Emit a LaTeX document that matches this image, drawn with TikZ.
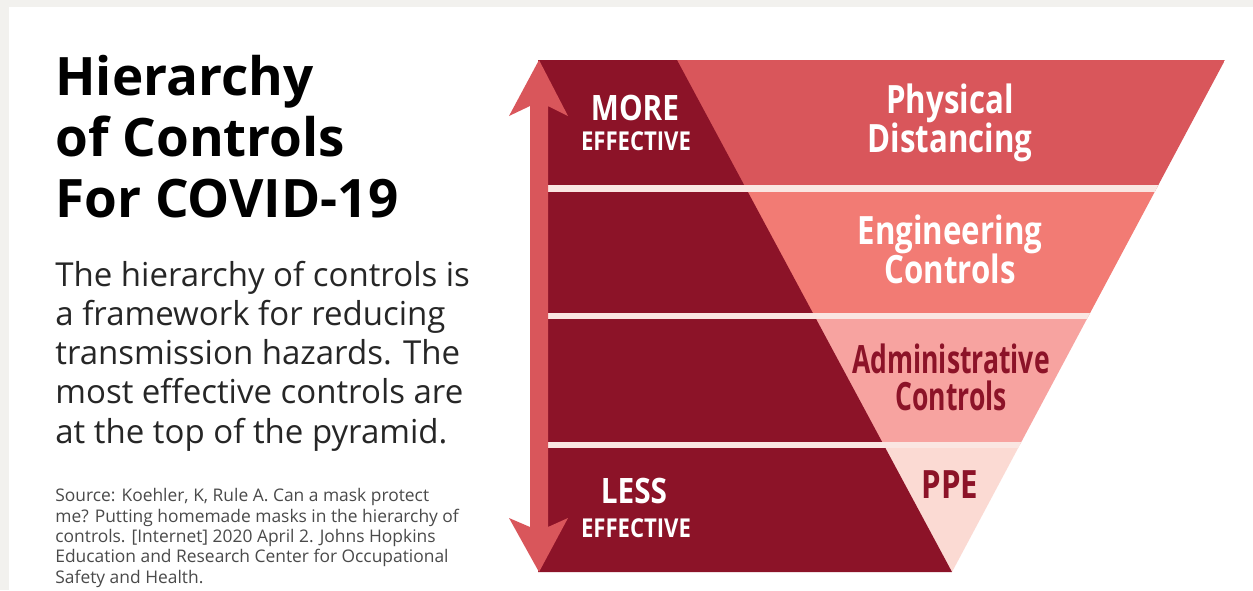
\documentclass[tikz,border=0pt]{standalone}
\usepackage{fontspec}
\setmainfont{Open Sans}
\newfontfamily\condfont[FakeStretch=0.80]{Open Sans}
\newfontfamily\narrowfont[FakeStretch=0.68]{Open Sans}
\newfontfamily\levelfont[FakeStretch=0.85]{Open Sans}
\usepackage{xcolor}

\definecolor{DeepRed}{HTML}{8C1328}
\definecolor{TierA}{HTML}{D9565B}
\definecolor{TierB}{HTML}{F27B74}
\definecolor{TierC}{HTML}{F7A3A0}
\definecolor{TierD}{HTML}{FBDAD3}
\definecolor{GapPink}{HTML}{FAE6E2}
\definecolor{FrameGray}{HTML}{F2F1EE}
\definecolor{SourceGray}{HTML}{4A4A4A}

\begin{document}
\begin{tikzpicture}[
	x=0.5pt, y=-0.5pt,
	title/.style={anchor=base west, inner sep=0, align=left, text=black,
		font=\fontsize{26.5}{30.5}\selectfont\bfseries},
	body/.style={anchor=base west, inner sep=0, align=left, text=black!85,
		font=\fontsize{16.5}{19.6}\selectfont},
	source/.style={anchor=base west, inner sep=0, align=left, text=SourceGray,
		font=\fontsize{8.7}{10.15}\selectfont},
	tier/.style={anchor=base, inner sep=0, align=center,
		font=\condfont\fontsize{19.5}{19.5}\selectfont\bfseries},
	level/.style={anchor=base, inner sep=0, align=center, text=white}
]
\useasboundingbox (0, 0) rectangle (1253, 590);
\fill[FrameGray] (0, 0) rectangle (1253, 590);
\fill[white] (9, 7) rectangle (1253, 590);

% Text (base = last line)
\node[title] (head) at (55, 217) {Hierarchy\\of Controls\\For COVID-19};
\node[body] (intro) at (55, 443) {The hierarchy of controls is\\a framework for reducing\\transmission hazards. The\\most effective controls are\\at the top of the pyramid.};
\node[source] (ref) at (55, 583) {Source: Koehler, K, Rule A. Can a mask protect\\me? Putting homemade masks in the hierarchy of\\controls. [Internet] 2020 April 2. Johns Hopkins\\Education and Research Center for Occupational\\Safety and Health.};

% Pyramid
\begin{scope}
\clip (538, 60) -- (1225, 60) -- (952, 572) -- (538, 572) -- cycle;
\fill[TierA] (538, 60) rectangle (1225, 188);
\fill[TierB] (538, 188) rectangle (1225, 316);
\fill[TierC] (538, 316) rectangle (1225, 444);
\fill[TierD] (538, 444) rectangle (1225, 572);
\fill[DeepRed] (538, 60) -- (677, 60) -- (952, 572) -- (538, 572) -- cycle;
\fill[GapPink] (538, 185) rectangle (1225, 192);
\fill[GapPink] (538, 313) rectangle (1225, 319);
\fill[GapPink] (538, 442) rectangle (1225, 448);
\end{scope}

% Arrow
\fill[TierA] (539, 60) -- (568, 116) -- (548, 106) -- (548, 527) -- (568, 518)
	-- (539, 572) -- (509, 518) -- (530, 527) -- (530, 106) -- (509, 116) -- cycle;

% Tiers
\node[tier, text=white] (dist) at (950, 152) {Physical\\Distancing};
\node[tier, text=white] (eng) at (950, 283) {Engineering\\Controls};
\node[tier, text=DeepRed, font=\narrowfont\fontsize{19.5}{18.5}\selectfont\bfseries] (admin) at (951, 410) {Administrative\\Controls};
\node[tier, text=DeepRed] (ppe) at (950, 498) {PPE};

% Effectiveness
\node[level, font=\levelfont\bfseries\fontsize{17.5}{17.5}\selectfont] (more) at (635, 120) {MORE};
\node[level, font=\levelfont\bfseries\fontsize{13}{13}\selectfont] (moreeff) at (636, 150) {EFFECTIVE};
\node[level, font=\levelfont\bfseries\fontsize{17.5}{17.5}\selectfont] (less) at (634, 503) {LESS};
\node[level, font=\levelfont\bfseries\fontsize{13}{13}\selectfont] (lesseff) at (636, 537) {EFFECTIVE};
\end{tikzpicture}
\end{document}
